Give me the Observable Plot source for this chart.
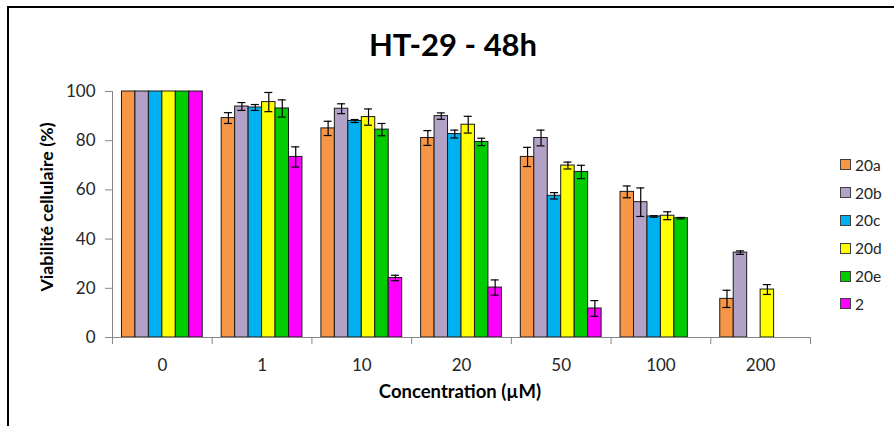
<!DOCTYPE html>
<html>
<head>
<meta charset="utf-8">
<script src="https://cdn.jsdelivr.net/npm/d3@7"></script>
<script src="https://cdn.jsdelivr.net/npm/@observablehq/plot@0.6"></script>
<style>
  html, body { margin: 0; padding: 0; background: #fff; }
  #wrap { position: relative; width: 894px; height: 426px; overflow: hidden; font-family: Lato, "Open Sans", sans-serif; color: #262626; }
  #wrap svg { position: absolute; left: 0; top: 0; }
  .border { position: absolute; left: 7px; top: 6px; width: 900px; height: 440px; border-left: 2px solid #000; border-top: 2px solid #000; }
  .title { position: absolute; left: 0; width: 906px; text-align: center; top: 29px; font-size: 31px; font-weight: 700; line-height: 1; color: #000; }
  .xlabel { position: absolute; left: 460px; top: 382px; transform: translateX(-50%); font-size: 18.5px; font-weight: 700; line-height: 1; white-space: nowrap; color: #000; }
  .ylabel { position: absolute; left: 47px; top: 207px; transform: translate(-50%, -50%) rotate(-90deg); font-size: 17.8px; font-weight: 700; line-height: 1; white-space: nowrap; color: #000; }
  .legend { position: absolute; left: 840px; top: 151px; }
  .legend .item { display: flex; align-items: center; height: 27.8px; font-size: 15.5px; }
  .legend .sw { width: 9px; height: 9px; border: 1px solid #404040; margin-right: 4px; }
</style>
</head>
<body>
<div id="wrap">
  <div class="border"></div>
  <div class="title">HT-29 - 48h</div>
  <div class="ylabel">Viabilité cellulaire (%)</div>
  <div class="xlabel">Concentration (µM)</div>
  <div class="legend" id="legend"></div>
</div>
<script>
// Categories (x axis)
const concentrations = ["0", "1", "10", "20", "50", "100", "200"];
// Series names and colours
const seriesNames = ["20a", "20b", "20c", "20d", "20e", "2"];
const seriesColors = ["#F79646", "#B3A2C7", "#00B0F0", "#FFFF00", "#00CC00", "#FF00FF"];
// Y ticks
const yTicks = [0, 20, 40, 60, 80, 100];

// Values (viability %) per series, per concentration
const v20a = [100, 89.2, 85.0, 81.1, 73.4, 59.2, 15.7];
const v20b = [100, 93.9, 93.0, 90.0, 81.1, 55.0, 34.5];
const v20c = [100, 93.5, 88.0, 82.7, 57.6, 49.2, null];
const v20d = [100, 95.7, 89.6, 86.5, 69.9, 49.5, 19.5];
const v20e = [100, 93.1, 84.5, 79.5, 67.3, 48.5, null];
const v2   = [100, 73.4, 24.2, 20.3, 11.8, null, null];

// Error bars (±)
const e20a = [0, 2.2, 2.9, 3.0, 3.9, 2.4, 3.5];
const e20b = [0, 1.6, 2.0, 1.3, 3.2, 5.8, 0.7];
const e20c = [0, 1.2, 0.6, 1.6, 1.3, 0.3, null];
const e20d = [0, 3.9, 3.3, 3.4, 1.4, 1.6, 2.0];
const e20e = [0, 3.5, 2.5, 1.5, 2.7, 0.3, null];
const e2   = [0, 4.1, 1.1, 3.1, 3.2, null, null];

const values = [v20a, v20b, v20c, v20d, v20e, v2];
const errors = [e20a, e20b, e20c, e20d, e20e, e2];

const W = 894, H = 426;
const mL = 112, mR = 84, mT = 91, mB = 89;
const bw = (W - mL - mR) / concentrations.length;
const off = bw * 0.095;
const barW = (bw - 2 * off) / seriesNames.length;
const capHalf = 4;

const marks = [];
seriesNames.forEach((name, i) => {
  const rows = concentrations.map((c, j) => ({conc: c, series: name, value: values[i][j], err: errors[i][j]}))
    .filter(d => d.value != null);
  const errRows = rows.filter(d => d.err != null && d.err > 0);
  const left = off + i * barW;
  const center = left + barW / 2;
  marks.push(Plot.barY(rows, {
    x: "conc", y: "value", fill: seriesColors[i], stroke: "#1a1a1a", strokeWidth: 1,
    insetLeft: left, insetRight: bw - left - barW
  }));
  marks.push(Plot.ruleX(errRows, {
    x: "conc", y1: d => d.value - d.err, y2: d => d.value + d.err,
    dx: center - bw / 2, stroke: "#000", strokeWidth: 1.2
  }));
  marks.push(Plot.tickY(errRows, {
    x: "conc", y: d => d.value + d.err, stroke: "#000", strokeWidth: 1.2,
    insetLeft: center - capHalf, insetRight: bw - center - capHalf
  }));
  marks.push(Plot.tickY(errRows, {
    x: "conc", y: d => d.value - d.err, stroke: "#000", strokeWidth: 1.2,
    insetLeft: center - capHalf, insetRight: bw - center - capHalf
  }));
});

const chart = Plot.plot({
  width: W, height: H,
  marginLeft: mL, marginRight: mR, marginTop: mT, marginBottom: mB,
  style: {fontFamily: "Lato, 'Open Sans', sans-serif", color: "#262626", background: "transparent", overflow: "visible"},
  x: {type: "band", domain: concentrations, padding: 0, round: false, label: null},
  y: {domain: [0, 100], label: null},
  marks: [
    ...marks,
    Plot.frame({anchor: "left", stroke: "#868686"}),
    Plot.frame({anchor: "bottom", stroke: "#868686"}),
    Plot.ruleX(concentrations, {x: d => d, y1: 0, y2: 0, insetBottom: -7, dx: -bw / 2, stroke: "#868686"}),
    Plot.ruleX(concentrations.slice(-1), {x: d => d, y1: 0, y2: 0, insetBottom: -7, dx: bw / 2, stroke: "#868686"}),
    Plot.axisY({ticks: yTicks, tickSize: 7, tickPadding: 10, stroke: "#868686", fontSize: 17, label: null}),
    Plot.axisX({tickSize: 0, tickPadding: 21, fontSize: 17, label: null})
  ]
});
document.getElementById("wrap").insertBefore(chart, document.querySelector(".border"));

const legend = document.getElementById("legend");
seriesNames.forEach((name, i) => {
  const item = document.createElement("div");
  item.className = "item";
  const sw = document.createElement("div");
  sw.className = "sw";
  sw.style.background = seriesColors[i];
  const lab = document.createElement("span");
  lab.textContent = name;
  item.appendChild(sw);
  item.appendChild(lab);
  legend.appendChild(item);
});
</script>
</body>
</html>
